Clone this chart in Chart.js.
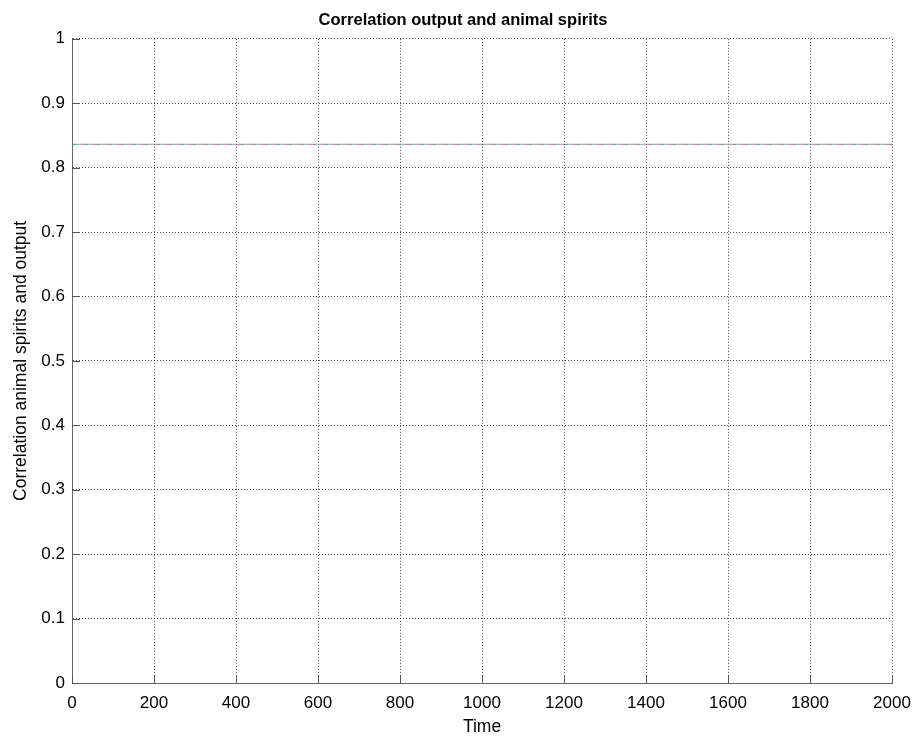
<!DOCTYPE html>
<html>
<head>
<meta charset="utf-8">
<script src="https://cdn.jsdelivr.net/npm/chart.js@4/dist/chart.umd.min.js"></script>
<style>
  html, body { margin: 0; padding: 0; background: #fff; }
  #wrap { width: 919px; height: 742px; }
</style>
</head>
<body>
<div id="wrap"><canvas id="grafico" width="919" height="742"></canvas></div>
<script>
// valores
const timeSteps = [1, 250, 500, 750, 1000, 1250, 1500, 1750, 2000];
const corrRun1 = [0.836, 0.836, 0.836, 0.836, 0.836, 0.836, 0.836, 0.836, 0.836];
const corrRun2 = [0.836, 0.836, 0.836, 0.836, 0.836, 0.836, 0.836, 0.836, 0.836];
const corrRun3 = [0.836, 0.836, 0.836, 0.836, 0.836, 0.836, 0.836, 0.836, 0.836];
const xTicks = [0, 200, 400, 600, 800, 1000, 1200, 1400, 1600, 1800, 2000];
const yTicks = [0, 0.1, 0.2, 0.3, 0.4, 0.5, 0.6, 0.7, 0.8, 0.9, 1];

const toPoints = (ys) => timeSteps.map((t, i) => ({ x: t, y: ys[i] }));

const fonte = "'Liberation Sans', Arial, sans-serif";

// ticks para dentro, estilo matlab
const innerTicks = {
    id: 'innerTicks',
    afterDraw(chart) {
        const ctx = chart.ctx;
        const area = chart.chartArea;
        const xs = chart.scales.x;
        const ys = chart.scales.y;
        ctx.save();
        ctx.strokeStyle = '#555';
        ctx.lineWidth = 1;
        ctx.beginPath();
        xTicks.forEach(v => {
            const px = Math.round(xs.getPixelForValue(v)) + 0.5;
            ctx.moveTo(px, area.bottom);
            ctx.lineTo(px, area.bottom - 8);
        });
        yTicks.forEach(v => {
            const py = Math.round(ys.getPixelForValue(v)) + 0.5;
            ctx.moveTo(area.left, py);
            ctx.lineTo(area.left + 8, py);
        });
        ctx.stroke();
        ctx.restore();
    }
};

new Chart(document.getElementById('grafico'), {
    type: 'line',
    data: {
        datasets: [
            { data: toPoints(corrRun1), borderColor: '#8f8f8f', borderWidth: 1.3, borderDash: [4, 8], pointRadius: 0 },
            { data: toPoints(corrRun2), borderColor: '#d77fb0', borderWidth: 1.3, borderDash: [4, 8], borderDashOffset: 4, pointRadius: 0 },
            { data: toPoints(corrRun3), borderColor: '#6fc6c0', borderWidth: 1.3, borderDash: [4, 8], borderDashOffset: 8, pointRadius: 0 }
        ]
    },
    options: {
        responsive: false,
        animation: false,
        layout: { padding: { top: 8, right: 0, bottom: 0, left: 7 } },
        plugins: {
            legend: { display: false },
            tooltip: { enabled: false },
            title: {
                display: true,
                text: 'Correlation output and animal spirits',
                color: '#000',
                font: { family: fonte, size: 16.5, weight: 'bold' },
                padding: { top: 3, bottom: 8 }
            }
        },
        scales: {
            x: {
                type: 'linear',
                min: 0,
                max: 2000,
                afterBuildTicks: (s) => { s.ticks = xTicks.map(v => ({ value: v })); },
                afterFit: (s) => { s.height = 59; s.paddingRight = 27; s.paddingLeft = 0; },
                ticks: { color: '#000', font: { family: fonte, size: 17 }, padding: 10, maxRotation: 0, callback: (v) => String(v) },
                grid: { color: '#444', lineWidth: 1, drawTicks: false },
                border: { display: true, color: '#666', width: 1, dash: [1, 2] },
                title: { display: true, text: 'Time', color: '#000', font: { family: fonte, size: 17.5 }, padding: { top: 7 } }
            },
            y: {
                min: 0,
                max: 1,
                afterBuildTicks: (s) => { s.ticks = yTicks.map(v => ({ value: v })); },
                afterFit: (s) => { s.width = 65; },
                ticks: { color: '#000', font: { family: fonte, size: 17 }, padding: 7, callback: (v) => String(v) },
                grid: { color: '#444', lineWidth: 1, drawTicks: false },
                border: { display: true, color: '#666', width: 1, dash: [1, 2] },
                title: { display: true, text: 'Correlation animal spirits and output', color: '#000', font: { family: fonte, size: 17.5 }, padding: { bottom: 4 } }
            }
        }
    },
    plugins: [innerTicks]
});
</script>
</body>
</html>
